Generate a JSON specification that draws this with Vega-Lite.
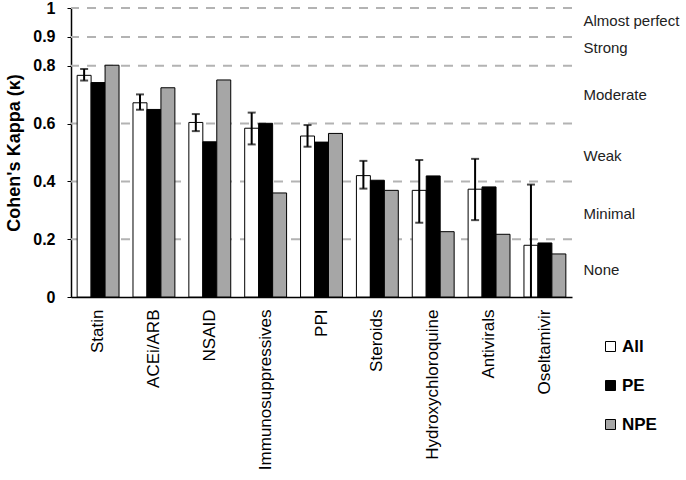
{
  "$schema": "https://vega.github.io/schema/vega-lite/v6.json",
  "width": 501,
  "height": 289,
  "autosize": "none",
  "padding": {"left": 71, "top": 8, "right": 114, "bottom": 183},
  "background": "white",
  "config": {"view": {"stroke": null}, "font": "Liberation Sans"},
  "datasets": {
    "kappa": [
      {"drug": "Statin", "series": "All", "value": 0.767, "lo": 0.749, "hi": 0.789},
      {"drug": "Statin", "series": "PE", "value": 0.742},
      {"drug": "Statin", "series": "NPE", "value": 0.802},
      {"drug": "ACEi/ARB", "series": "All", "value": 0.672, "lo": 0.648, "hi": 0.701},
      {"drug": "ACEi/ARB", "series": "PE", "value": 0.649},
      {"drug": "ACEi/ARB", "series": "NPE", "value": 0.724},
      {"drug": "NSAID", "series": "All", "value": 0.604, "lo": 0.574, "hi": 0.633},
      {"drug": "NSAID", "series": "PE", "value": 0.537},
      {"drug": "NSAID", "series": "NPE", "value": 0.751},
      {"drug": "Immunosuppressives", "series": "All", "value": 0.584, "lo": 0.528, "hi": 0.638},
      {"drug": "Immunosuppressives", "series": "PE", "value": 0.601},
      {"drug": "Immunosuppressives", "series": "NPE", "value": 0.36},
      {"drug": "PPI", "series": "All", "value": 0.557, "lo": 0.52, "hi": 0.595},
      {"drug": "PPI", "series": "PE", "value": 0.536},
      {"drug": "PPI", "series": "NPE", "value": 0.566},
      {"drug": "Steroids", "series": "All", "value": 0.42, "lo": 0.375, "hi": 0.471},
      {"drug": "Steroids", "series": "PE", "value": 0.404},
      {"drug": "Steroids", "series": "NPE", "value": 0.369},
      {"drug": "Hydroxychloroquine", "series": "All", "value": 0.369, "lo": 0.257, "hi": 0.474},
      {"drug": "Hydroxychloroquine", "series": "PE", "value": 0.419},
      {"drug": "Hydroxychloroquine", "series": "NPE", "value": 0.226},
      {"drug": "Antivirals", "series": "All", "value": 0.373, "lo": 0.266, "hi": 0.478},
      {"drug": "Antivirals", "series": "PE", "value": 0.381},
      {"drug": "Antivirals", "series": "NPE", "value": 0.217},
      {"drug": "Oseltamivir", "series": "All", "value": 0.179, "lo": -0.03, "hi": 0.389},
      {"drug": "Oseltamivir", "series": "PE", "value": 0.187},
      {"drug": "Oseltamivir", "series": "NPE", "value": 0.149}
    ],
    "levels": [
      {"k": 0.2}, {"k": 0.4}, {"k": 0.6}, {"k": 0.8}, {"k": 0.9}, {"k": 1.0}
    ]
  },
  "layer": [
    {
      "data": {"name": "levels"},
      "mark": {"type": "rule", "color": "#b3b3b3", "strokeWidth": 2, "strokeDash": [9, 8]},
      "encoding": {
        "y": {
          "field": "k", "type": "quantitative",
          "scale": {"domain": [0, 1], "nice": false, "zero": true},
          "axis": {
            "orient": "right", "title": null, "domain": false, "ticks": false, "grid": false,
            "values": [0.095, 0.29, 0.49, 0.7, 0.865, 0.958],
            "labelExpr": "datum.value < 0.2 ? 'None' : datum.value < 0.4 ? 'Minimal' : datum.value < 0.6 ? 'Weak' : datum.value < 0.8 ? 'Moderate' : datum.value < 0.9 ? 'Strong' : 'Almost perfect'",
            "labelFont": "Liberation Sans", "labelFontSize": 15, "labelColor": "#222",
            "labelPadding": 11, "labelAlign": "left", "labelBaseline": "middle", "labelBound": false, "labelOverlap": false, "labelFlush": false
          }
        }
      }
    },
    {
      "data": {"name": "kappa"},
      "mark": {"type": "bar", "stroke": "black", "strokeWidth": 1},
      "encoding": {
        "x": {
          "field": "drug", "type": "nominal", "sort": null,
          "scale": {"paddingInner": 0.25, "paddingOuter": 0.11},
          "axis": {
            "title": null, "labelAngle": -90, "labelAlign": "right", "labelBaseline": "middle",
            "labelFont": "Liberation Sans", "labelFontSize": 17, "labelColor": "black",
            "labelPadding": 12, "ticks": false, "domainColor": "black", "domainWidth": 1.5
          }
        },
        "xOffset": {"field": "series", "type": "nominal", "scale": {"domain": ["All", "PE", "NPE"]}},
        "y": {
          "field": "value", "type": "quantitative",
          "scale": {"domain": [0, 1], "nice": false},
          "axis": {
            "orient": "left", "title": "Cohen's Kappa (κ)", "values": [0, 0.2, 0.4, 0.6, 0.8, 0.9, 1],
            "format": ".1~f", "grid": false,
            "labelFont": "Liberation Sans", "labelFontSize": 16, "labelFontWeight": "bold", "labelColor": "black",
            "labelPadding": 12, "tickSize": 4, "tickColor": "black", "domainColor": "black", "domainWidth": 1.5,
            "titleFont": "Liberation Sans", "titleFontSize": 18, "titleFontWeight": "bold", "titleColor": "black",
            "titlePadding": 9, "labelFlush": false, "labelOverlap": false
          }
        },
        "fill": {
          "field": "series", "type": "nominal",
          "scale": {"domain": ["All", "PE", "NPE"], "range": ["white", "black", "#a6a6a6"]},
          "legend": {
            "title": null, "orient": "none", "legendX": 531, "legendY": 330,
            "symbolType": "square", "symbolSize": 100, "symbolStrokeColor": "black", "symbolStrokeWidth": 1,
            "labelFont": "Liberation Sans", "labelFontSize": 17, "labelFontWeight": "bold", "labelColor": "black",
            "labelOffset": 3, "rowPadding": 21
          }
        }
      }
    },
    {
      "data": {"name": "kappa"},
      "transform": [{"filter": "datum.series === 'All'"}],
      "mark": {"type": "rule", "color": "black", "strokeWidth": 2, "clip": true},
      "encoding": {
        "x": {"field": "drug", "type": "nominal", "sort": null},
        "xOffset": {"field": "series", "type": "nominal"},
        "y": {"field": "lo", "type": "quantitative", "axis": null},
        "y2": {"field": "hi"}
      }
    },
    {
      "data": {"name": "kappa"},
      "transform": [{"filter": "datum.series === 'All'"}],
      "mark": {"type": "tick", "color": "black", "thickness": 2, "size": 8, "clip": true},
      "encoding": {
        "x": {"field": "drug", "type": "nominal", "sort": null},
        "xOffset": {"field": "series", "type": "nominal"},
        "y": {"field": "hi", "type": "quantitative", "axis": null}
      }
    },
    {
      "data": {"name": "kappa"},
      "transform": [{"filter": "datum.series === 'All'"}],
      "mark": {"type": "tick", "color": "black", "thickness": 2, "size": 8, "clip": true},
      "encoding": {
        "x": {"field": "drug", "type": "nominal", "sort": null},
        "xOffset": {"field": "series", "type": "nominal"},
        "y": {"field": "lo", "type": "quantitative", "axis": null}
      }
    }
  ],
  "resolve": {"axis": {"y": "independent"}}
}
